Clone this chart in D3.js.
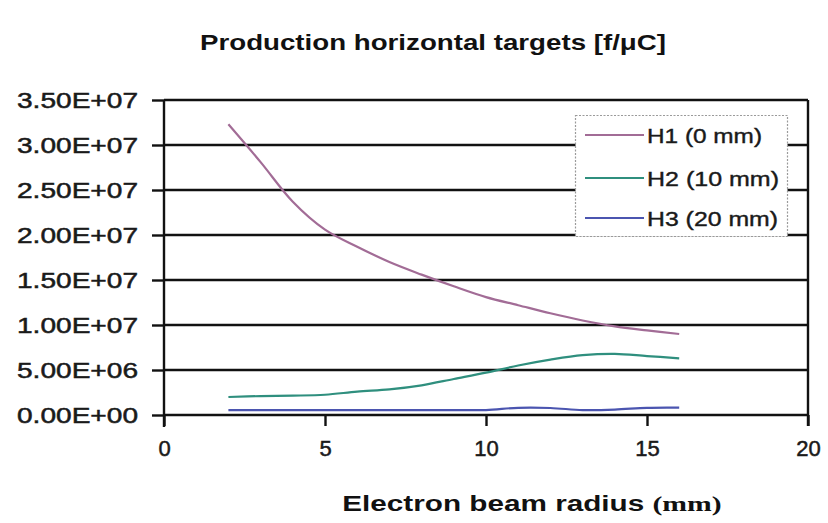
<!DOCTYPE html>
<html>
<head>
<meta charset="utf-8">
<script src="https://cdn.jsdelivr.net/npm/d3@7/dist/d3.min.js"></script>
<style>
  html, body { margin: 0; padding: 0; background: #fff; }
  svg { display: block; }
</style>
</head>
<body>
<svg id="chart" width="828" height="523"></svg>
<script>
// Electron beam radius (mm)
const radius = [2, 3, 4, 5, 6, 7, 8, 9, 10, 11, 12, 13, 14, 15, 16];

// Production per target, fissions per microcoulomb
const h1Values = [3.23e7, 2.81e7, 2.37e7, 2.06e7, 1.87e7, 1.70e7, 1.56e7, 1.43e7, 1.31e7, 1.22e7, 1.13e7, 1.05e7, 0.985e7, 0.94e7, 0.90e7];
const h2Values = [2.0e6, 2.1e6, 2.15e6, 2.25e6, 2.6e6, 2.85e6, 3.3e6, 4.0e6, 4.7e6, 5.5e6, 6.15e6, 6.65e6, 6.8e6, 6.55e6, 6.3e6];
const h3Values = [0.55e6, 0.55e6, 0.55e6, 0.55e6, 0.55e6, 0.55e6, 0.55e6, 0.55e6, 0.55e6, 0.8e6, 0.78e6, 0.55e6, 0.6e6, 0.8e6, 0.82e6];

const seriesNames = ["H1 (0 mm)", "H2 (10 mm)", "H3 (20 mm)"];
const seriesColors = ["#a26c96", "#2f8f7e", "#4b55b0"];

const yTicks = [0, 5e6, 1e7, 1.5e7, 2e7, 2.5e7, 3e7, 3.5e7];
const xTicks = [0, 5, 10, 15, 20];

const titleText = "Production horizontal targets [f/\u03BCC]";
const xTitleText = "Electron beam radius";
const xUnitText = "(mm)";

const svg = d3.select("#chart");
const sans = "Arial, 'Liberation Sans', sans-serif";

const x = d3.scaleLinear().domain([0, 20]).range([164, 808]);
const y = d3.scaleLinear().domain([0, 3.5e7]).range([415, 100]);

// Scientific labels in spreadsheet style, e.g. 3.50E+07
function sci(v) {
  if (v === 0) return "0.00E+00";
  const e = Math.floor(Math.log10(v));
  const m = v / Math.pow(10, e);
  const sign = e < 0 ? "-" : "+";
  return m.toFixed(2) + "E" + sign + String(Math.abs(e)).padStart(2, "0");
}

// Chart title
svg.append("text")
  .attr("x", 433).attr("y", 50)
  .attr("text-anchor", "middle")
  .attr("font-family", sans)
  .attr("font-weight", "bold")
  .attr("font-size", 22)
  .attr("fill", "#111")
  .attr("textLength", 466)
  .attr("lengthAdjust", "spacingAndGlyphs")
  .text(titleText);

// Horizontal gridlines
svg.append("g")
  .selectAll("line")
  .data(yTicks)
  .join("line")
  .attr("x1", x(0)).attr("x2", x(20))
  .attr("y1", d => y(d)).attr("y2", d => y(d))
  .attr("stroke", "#111")
  .attr("stroke-width", 2.4);

// Right border of the plot area
svg.append("line")
  .attr("x1", x(20)).attr("x2", x(20))
  .attr("y1", y(3.5e7)).attr("y2", y(0) + 11)
  .attr("stroke", "#111").attr("stroke-width", 2.4);

// Y axis
const yAxis = svg.append("g")
  .attr("transform", `translate(${x(0)},0)`)
  .call(d3.axisLeft(y).tickValues(yTicks).tickSize(12).tickPadding(14).tickFormat(sci));
yAxis.select(".domain").remove();
yAxis.append("line")
  .attr("x1", 0).attr("x2", 0)
  .attr("y1", y(3.5e7)).attr("y2", y(0) + 12)
  .attr("stroke", "#111").attr("stroke-width", 2.4);
yAxis.selectAll(".tick line").attr("stroke", "#111").attr("stroke-width", 2.4);
yAxis.selectAll(".tick text")
  .attr("font-family", sans)
  .attr("font-size", 22)
  .attr("fill", "#1a1a1a")
  .attr("stroke", "#1a1a1a")
  .attr("stroke-width", 0.5)
  .attr("textLength", 121)
  .attr("lengthAdjust", "spacingAndGlyphs");

// X axis
const xAxis = svg.append("g")
  .attr("transform", `translate(0,${y(0)})`)
  .call(d3.axisBottom(x).tickValues(xTicks).tickSize(11).tickPadding(14).tickFormat(d3.format("d")));
xAxis.select(".domain").remove();
xAxis.selectAll(".tick line").attr("stroke", "#111").attr("stroke-width", 2.4);
xAxis.selectAll(".tick text")
  .attr("font-family", sans)
  .attr("font-size", 22)
  .attr("fill", "#1a1a1a")
  .attr("stroke", "#1a1a1a")
  .attr("stroke-width", 0.5);

// X axis title: bold sans label plus serif unit, widened to the plot's proportions
const xt = svg.append("text")
  .attr("transform", "translate(532,511) scale(1.35,1)")
  .attr("text-anchor", "middle")
  .attr("fill", "#111");
xt.append("tspan")
  .attr("font-family", sans)
  .attr("font-weight", "bold")
  .attr("font-size", 22)
  .text(xTitleText + " ");
xt.append("tspan")
  .attr("font-family", "'Liberation Serif', 'Times New Roman', serif")
  .attr("font-weight", "bold")
  .attr("font-size", 22)
  .text(xUnitText);

// Series lines
const seriesData = [h1Values, h2Values, h3Values].map((vals, i) => ({
  name: seriesNames[i],
  color: seriesColors[i],
  points: radius.map((r, j) => [r, vals[j]])
}));

const line = d3.line()
  .x(d => x(d[0]))
  .y(d => y(d[1]))
  .curve(d3.curveCatmullRom.alpha(0.5));

svg.append("g")
  .selectAll("path")
  .data(seriesData)
  .join("path")
  .attr("d", d => line(d.points))
  .attr("fill", "none")
  .attr("stroke", d => d.color)
  .attr("stroke-width", 2.2)
  .attr("stroke-linejoin", "round");

// Legend
const legend = svg.append("g");
legend.append("rect")
  .attr("x", 575.5).attr("y", 115.5)
  .attr("width", 212).attr("height", 121)
  .attr("fill", "#fff")
  .attr("stroke", "#9a9a9a")
  .attr("stroke-width", 1.2)
  .attr("stroke-dasharray", "2,1.5");

const legendRows = [135, 178, 218];
const legendWidths = [115, 132, 131];
seriesData.forEach((s, i) => {
  legend.append("line")
    .attr("x1", 585).attr("x2", 644)
    .attr("y1", legendRows[i]).attr("y2", legendRows[i])
    .attr("stroke", s.color).attr("stroke-width", 2.2);
  legend.append("text")
    .attr("x", 647).attr("y", legendRows[i] + 8)
    .attr("font-family", sans)
    .attr("font-size", 21)
    .attr("fill", "#1a1a1a")
    .attr("stroke", "#1a1a1a")
    .attr("stroke-width", 0.4)
    .attr("textLength", legendWidths[i])
    .attr("lengthAdjust", "spacingAndGlyphs")
    .text(s.name);
});
</script>
</body>
</html>
